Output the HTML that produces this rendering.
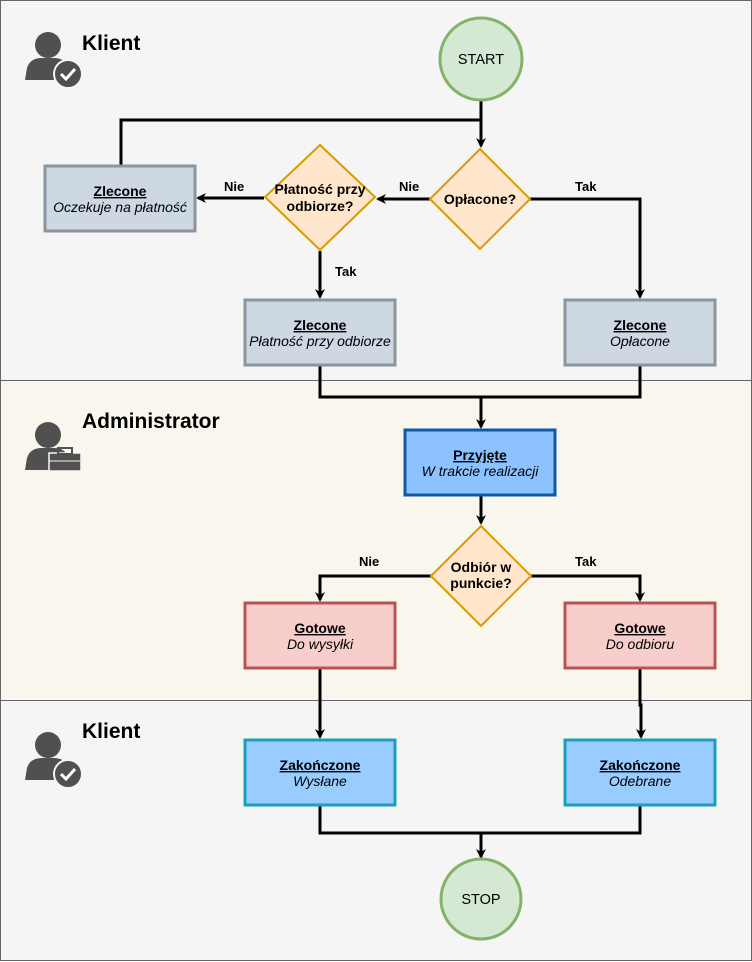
<!DOCTYPE html>
<html><head><meta charset="utf-8"><style>
html,body{margin:0;padding:0;background:#fff}
svg{display:block}
text{font-family:"Liberation Sans",sans-serif}
</style></head><body>
<svg width="752" height="962" viewBox="0 0 752 962" xmlns="http://www.w3.org/2000/svg">
<defs>
<marker id="a" markerWidth="10" markerHeight="10" refX="8" refY="5" orient="auto" markerUnits="userSpaceOnUse">
<path d="M0,0 L10,5 L0,10 L3,5 Z" fill="#000"/>
</marker>
<g id="person">
<circle cx="48" cy="45" r="13" fill="#505050"/>
<path d="M25,80 L27,68 Q30,58 42,58 L54,58 Q64,58 68,66 L68,80 Z" fill="#505050"/>
</g>
</defs>
<rect x="0.5" y="0.5" width="751" height="380" fill="#f5f5f5" stroke="#666"/>
<rect x="0.5" y="380.5" width="751" height="320" fill="#f9f7ed" stroke="#666"/>
<rect x="0.5" y="700.5" width="751" height="260" fill="#f5f5f5" stroke="#666"/>

<use href="#person"/>
<circle cx="68" cy="74" r="14" fill="#505050" stroke="#f5f5f5" stroke-width="2"/>
<path d="M61,74 L66,79 L75,69" fill="none" stroke="#fff" stroke-width="3"/>
<text x="82" y="50" font-size="21" font-weight="bold">Klient</text>

<use href="#person" y="390"/>
<rect x="49" y="453" width="32" height="18" fill="#505050" stroke="#f9f7ed" stroke-width="1.5"/>
<rect x="58" y="448" width="14" height="6" fill="none" stroke="#505050" stroke-width="2"/>
<line x1="49" y1="461" x2="81" y2="461" stroke="#f9f7ed" stroke-width="1"/>
<text x="82" y="428" font-size="21" font-weight="bold">Administrator</text>

<use href="#person" y="700"/>
<circle cx="68" cy="774" r="14" fill="#505050" stroke="#f5f5f5" stroke-width="2"/>
<path d="M61,774 L66,779 L75,769" fill="none" stroke="#fff" stroke-width="3"/>
<text x="82" y="738" font-size="21" font-weight="bold">Klient</text>

<g fill="none" stroke="#000" stroke-width="3">
<path d="M481,101 L481,146" marker-end="url(#a)"/>
<path d="M121,165 L121,120 L481,120"/>
<path d="M264,198 L198,198" marker-end="url(#a)"/>
<path d="M430,199 L378,199" marker-end="url(#a)"/>
<path d="M530,199 L640,199 L640,297" marker-end="url(#a)"/>
<path d="M320,251 L320,297" marker-end="url(#a)"/>
<path d="M320,365 L320,397 L640,397 L640,365"/>
<path d="M481,397 L481,427" marker-end="url(#a)"/>
<path d="M481,495 L481,523" marker-end="url(#a)"/>
<path d="M431,576 L320,576 L320,600" marker-end="url(#a)"/>
<path d="M531,576 L640,576 L640,600" marker-end="url(#a)"/>
<path d="M320,668 L320,737" marker-end="url(#a)"/>
<path d="M640,668 L640,705 L641,705 L641,737" marker-end="url(#a)"/>
<path d="M320,805 L320,833 L640,833 L640,805"/>
<path d="M481,833 L481,857" marker-end="url(#a)"/>
</g>
<g font-size="13" font-weight="bold">
<text x="224" y="191">Nie</text>
<text x="399" y="191">Nie</text>
<text x="575" y="191">Tak</text>
<text x="335" y="276">Tak</text>
<text x="359" y="566">Nie</text>
<text x="575" y="566">Tak</text>
</g>

<circle cx="481" cy="59" r="41" fill="#d5e8d4" stroke="#82b366" stroke-width="3"/>
<text x="481" y="64" font-size="14.5" text-anchor="middle">START</text>
<circle cx="481" cy="899" r="40" fill="#d5e8d4" stroke="#82b366" stroke-width="3"/>
<text x="481" y="904" font-size="14.5" text-anchor="middle">STOP</text>

<g font-size="14" font-weight="bold" text-anchor="middle">
<polygon points="480,149 530,199 480,249 430,199" fill="#ffe6cc" stroke="#d79b00" stroke-width="2"/>
<text x="480" y="204">Opłacone?</text>
<polygon points="320,145 375,197 320,250 265,197" fill="#ffe6cc" stroke="#d79b00" stroke-width="2"/>
<text x="320" y="194">Płatność przy</text>
<text x="320" y="211">odbiorze?</text>
<polygon points="481,526 531,576 481,626 431,576" fill="#ffe6cc" stroke="#d79b00" stroke-width="2"/>
<text x="481" y="572">Odbiór w</text>
<text x="481" y="588">punkcie?</text>
</g>

<g font-size="14" text-anchor="middle">
<rect x="45" y="166" width="150" height="65" fill="#cdd8e3" stroke="#8c959e" stroke-width="3"/>
<text x="120" y="196" font-weight="bold" text-decoration="underline">Zlecone</text>
<text x="120" y="212" font-style="italic">Oczekuje na płatność</text>

<rect x="245" y="300" width="150" height="65" fill="#cdd8e3" stroke="#8c959e" stroke-width="3"/>
<text x="320" y="330" font-weight="bold" text-decoration="underline">Zlecone</text>
<text x="320" y="346" font-style="italic">Płatność przy odbiorze</text>

<rect x="565" y="300" width="150" height="65" fill="#cdd8e3" stroke="#8c959e" stroke-width="3"/>
<text x="640" y="330" font-weight="bold" text-decoration="underline">Zlecone</text>
<text x="640" y="346" font-style="italic">Opłacone</text>

<rect x="405" y="430" width="150" height="65" fill="#8cc2ff" stroke="#0e58a8" stroke-width="3"/>
<text x="480" y="460" font-weight="bold" text-decoration="underline">Przyjęte</text>
<text x="480" y="476" font-style="italic">W trakcie realizacji</text>

<rect x="245" y="603" width="150" height="65" fill="#f8cecc" stroke="#b85450" stroke-width="3"/>
<text x="320" y="633" font-weight="bold" text-decoration="underline">Gotowe</text>
<text x="320" y="649" font-style="italic">Do wysyłki</text>

<rect x="565" y="603" width="150" height="65" fill="#f8cecc" stroke="#b85450" stroke-width="3"/>
<text x="640" y="633" font-weight="bold" text-decoration="underline">Gotowe</text>
<text x="640" y="649" font-style="italic">Do odbioru</text>

<rect x="245" y="740" width="150" height="65" fill="#99ccff" stroke="#1ba1b8" stroke-width="3"/>
<text x="320" y="770" font-weight="bold" text-decoration="underline">Zakończone</text>
<text x="320" y="786" font-style="italic">Wysłane</text>

<rect x="565" y="740" width="150" height="65" fill="#99ccff" stroke="#1ba1b8" stroke-width="3"/>
<text x="640" y="770" font-weight="bold" text-decoration="underline">Zakończone</text>
<text x="640" y="786" font-style="italic">Odebrane</text>
</g>
</svg>
</body></html>
